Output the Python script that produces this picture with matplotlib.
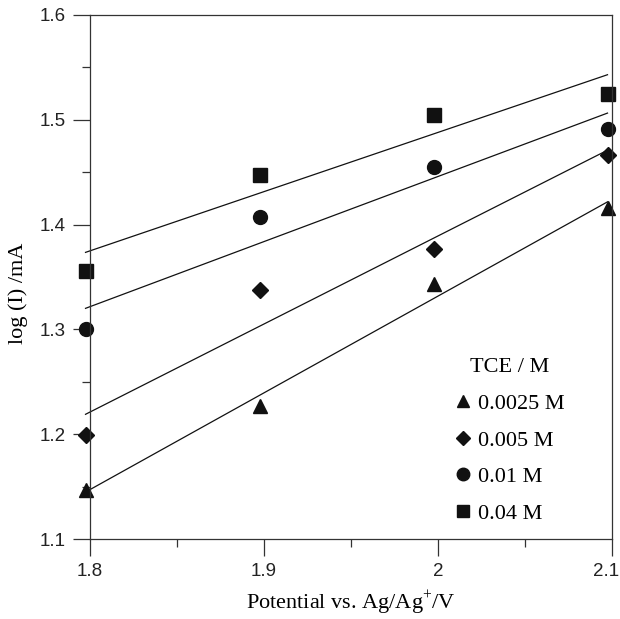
import numpy as np
import matplotlib
matplotlib.use("Agg")
import matplotlib.pyplot as plt
from matplotlib.ticker import MultipleLocator
import matplotlib.transforms as mtransforms

plt.rcParams['mathtext.fontset'] = 'custom'
plt.rcParams['mathtext.rm'] = 'Liberation Serif'

potential = [1.8, 1.9, 2.0, 2.1]
labels = ["0.0025 M", "0.005 M", "0.01 M", "0.04 M"]
markers = ["^", "D", "o", "s"]
msizes = [9.5, 8, 10, 10]
log_i = [
    [1.147, 1.227, 1.343, 1.416],
    [1.199, 1.338, 1.377, 1.466],
    [1.300, 1.407, 1.455, 1.491],
    [1.356, 1.447, 1.505, 1.525],
]
xticks = [1.8, 1.9, 2.0, 2.1]
xticklabels = ["1.8", "1.9", "2", "2.1"]
yticks = [1.1, 1.2, 1.3, 1.4, 1.5, 1.6]

fig = plt.figure(figsize=(6.2, 6.19), dpi=100)
ax = fig.add_axes([0.1452, 0.1292, 0.8419, 0.8466])

shift = mtransforms.offset_copy(ax.transData, fig=fig, x=-4.5, y=0, units='dots')

x = np.array(potential)
for y, lab, m, ms in zip(log_i, labels, markers, msizes):
    y = np.array(y)
    ax.plot(x, y, linestyle='none', marker=m, markersize=ms, color='#111111',
            label=lab, clip_on=False, transform=shift)
    k, b = np.polyfit(x, y, 1)
    ax.plot(x[[0, -1]], k * x[[0, -1]] + b, color='#111111', lw=0.9,
            clip_on=False, transform=shift)

ax.set_xlim(1.8, 2.1)
ax.set_ylim(1.1, 1.6)
ax.set_xticks(xticks)
ax.set_xticklabels(xticklabels)
ax.set_yticks(yticks)
ax.set_yticklabels([f"{v:.1f}" for v in yticks])
ax.xaxis.set_minor_locator(MultipleLocator(0.05))
ax.yaxis.set_minor_locator(MultipleLocator(0.05))
ax.tick_params(which='major', direction='out', length=12.5, width=0.9, pad=5,
               labelsize=13.5, color='#333333')
ax.tick_params(which='minor', direction='out', length=5.5, width=0.9, color='#333333')
for lbl in ax.get_xticklabels() + ax.get_yticklabels():
    lbl.set_fontfamily('Liberation Sans')
    lbl.set_color('#222222')
last = ax.get_xticklabels()[-1]
last.set_transform(last.get_transform() +
                   mtransforms.Affine2D().translate(-6, 0))
for s in ax.spines.values():
    s.set_linewidth(0.9)
    s.set_color('#333333')

ax.set_xlabel("Potential vs. Ag/Ag$^{+}$/V", fontfamily='Liberation Serif',
              fontsize=16, labelpad=6)
ax.set_ylabel("log (I) /mA", fontfamily='Liberation Serif', fontsize=16)
ax.yaxis.set_label_coords(-0.118, 0.468)

leg = ax.legend(loc='center', bbox_to_anchor=(0.803, 0.187), frameon=False,
                title="TCE / M", markerscale=0.9, handlelength=0.8,
                handletextpad=0.3, labelspacing=0.72,
                prop={'family': 'Liberation Serif', 'size': 16},
                title_fontproperties={'family': 'Liberation Serif', 'size': 16})

fig.savefig("out.png", dpi=100)
